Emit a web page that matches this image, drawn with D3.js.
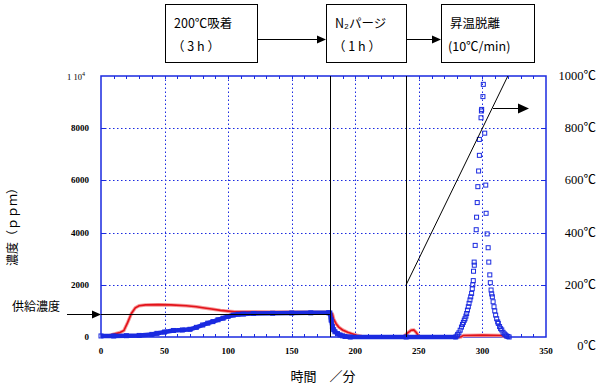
<!DOCTYPE html>
<html>
<head>
<meta charset="utf-8">
<script src="https://cdn.jsdelivr.net/npm/d3@7"></script>
<style>
  body { margin: 0; background: #fff; }
  text { font-family: "Liberation Serif", "Noto Sans CJK JP", serif; }
  .jp { font-family: "Noto Sans CJK JP", sans-serif; }
</style>
</head>
<body>
<svg class="chart"></svg>
<script>
// time (min) / concentration (ppm)
var redData = [[7,60],[10,110],[15,170],[18,250],[21,560],[24,910],[27,1120],[30,1200],[35,1230],
  [45,1240],[55,1230],[67,1200],[75,1160],[80,1120],[87,1070],[94,1020],[100,990],[105,970],
  [120,965],[135,960],[150,955],[165,950],[179,945],[180,930],[182,880],[183,690],[185,500],
  [187,380],[190,270],[194,180],[197,130],[201,70],[205,20],[210,0],[238,0],[241,150],[244,260],
  [246,270],[248,170],[250,20],[252,0],[283,0],[285,60],[300,70],[315,60],[318,0]];

var blueBand = [[0,40],[10,40],[20,50],[30,60],[40,100],[44,140],[50,190],[57,250],[64,270],
  [70,295],[75,370],[80,460],[84,530],[88,590],[92,660],[96,720],[100,790],[104,840],[108,870],
  [112,880],[120,900],[135,910],[150,920],[165,925],[179,930],[180,920],[181,650],[182,400],
  [183,280],[184,200],[186,130],[188,80],[190,45],[192,20],[196,0],[240,0],[279,0],[280,40]];

var bluePeak = [[280.5,100],[281.5,160],[282.5,260],[283.5,380],[284.3,480],[285,560],[285.7,640],
  [286.3,700],[287,800],[287.6,900],[288.2,1030],[288.9,1160],[289.5,1290],[290.2,1420],[290.8,1540],
  [291.5,1670],[292,1850],[292.4,2000],[292.8,2160],[293,2520],[293.5,2870],[293.6,2750],[294.3,3510],
  [295.1,4110],[295.4,4590],[295.9,5150],[296.4,5760],[297,6360],[297.6,6960],[297.6,7570],[298.9,8400],
  [299.2,8660],[299.4,8720],[300.4,9210],[300.7,9680],[301.8,7810],[302.6,5820],[302.9,4740],
  [303.7,3950],[304.5,3420],[305,2870],[305.8,2380],[306.2,2080],[306.8,1800],[307.3,1650],
  [307.8,1540],[308.4,1350],[309.1,1160],[309.7,1000],[310.4,840],[311.2,700],[312,580],[312.5,520],
  [313.5,400],[314.3,320],[315.2,270],[316.2,180],[317.2,120],[318,80],[319,40],[320,20],[321,0]];

// temperature program (min, ℃)
var tempData = [[240,200],[320,1000]];
var feedPpm = 880;
var stepLines = [180, 240];

var xTicks = [0,50,100,150,200,250,300,350];
var yTicks = [0,2000,4000,6000,8000];
var tTicks = [0,200,400,600,800,1000];

var boxes = [
  {x: 165, w: 92, l1: "200℃吸着", l2: "（3 h）"},
  {x: 326, w: 80, l1: "N₂パージ", l2: "（1 h）"},
  {x: 441, w: 93, l1: "昇温脱離", l2: "(10℃/min)"}
];

var W = 600, H = 387;
var svg = d3.select(".chart").attr("width", W).attr("height", H);

var x = d3.scaleLinear().domain([0, 350]).range([101, 546]);
var y = d3.scaleLinear().domain([0, 10000]).range([337, 76]);
var yT = d3.scaleLinear().domain([0, 1000]).range([337, 76]);
var blue = "#1a2ae0";

// horizontal arrow pointing right, tip at (x2, yy)
function arrow(x1, x2, yy, size) {
    svg.append("line").attr("x1", x1).attr("x2", x2 - size).attr("y1", yy + .5).attr("y2", yy + .5)
        .attr("stroke", "#000");
    svg.append("path")
        .attr("d", "M" + (x2 - size) + "," + (yy + .5 - size * .45) + "L" + x2 + "," + (yy + .5) +
            "L" + (x2 - size) + "," + (yy + .5 + size * .45) + "Z")
        .attr("fill", "#000");
}

// process boxes
boxes.forEach(function(b) {
    svg.append("rect").attr("x", b.x + .5).attr("y", 4.5).attr("width", b.w).attr("height", 58)
        .attr("fill", "none").attr("stroke", "#000");
    svg.append("text").attr("class", "jp").attr("x", b.x + 9).attr("y", 28)
        .attr("font-size", 12.5).text(b.l1);
    svg.append("text").attr("class", "jp").attr("x", b.x + 7).attr("y", 51)
        .attr("font-size", 12.5).style("white-space", "pre")
        .text(b.l2.replace(/（/g, "（ ").replace(/）/g, " ）"));
});
for (var i = 0; i < boxes.length - 1; i++) {
    arrow(boxes[i].x + boxes[i].w + .5, boxes[i + 1].x, 39, 9);
}

// grid
svg.append("g").selectAll("line").data(yTicks.slice(1)).enter().append("line")
    .attr("x1", x(0)).attr("x2", x(350))
    .attr("y1", function(d) { return Math.round(y(d)) + .5; })
    .attr("y2", function(d) { return Math.round(y(d)) + .5; })
    .attr("stroke", blue).attr("stroke-dasharray", "1.5,2.5");
svg.append("g").selectAll("line").data(xTicks.slice(1, -1)).enter().append("line")
    .attr("y1", y(0)).attr("y2", y(10000))
    .attr("x1", function(d) { return Math.round(x(d)) + .5; })
    .attr("x2", function(d) { return Math.round(x(d)) + .5; })
    .attr("stroke", blue).attr("stroke-dasharray", "1.5,2.5");

// minor ticks inside the frame
var minor = d3.range(10, 350, 10);
svg.append("g").selectAll("line").data(minor).enter().append("line")
    .attr("x1", function(d) { return Math.round(x(d)) + .5; })
    .attr("x2", function(d) { return Math.round(x(d)) + .5; })
    .attr("y1", y(10000)).attr("y2", y(10000) + 3).attr("stroke", blue);
svg.append("g").selectAll("line").data(minor).enter().append("line")
    .attr("x1", function(d) { return Math.round(x(d)) + .5; })
    .attr("x2", function(d) { return Math.round(x(d)) + .5; })
    .attr("y1", y(0)).attr("y2", y(0) - 3).attr("stroke", blue);
svg.append("g").selectAll("line").data(yTicks.slice(1)).enter().append("line")
    .attr("x1", x(0)).attr("x2", x(0) + 4)
    .attr("y1", function(d) { return Math.round(y(d)) + .5; })
    .attr("y2", function(d) { return Math.round(y(d)) + .5; }).attr("stroke", blue);
svg.append("g").selectAll("line").data(yTicks.slice(1)).enter().append("line")
    .attr("x1", x(350)).attr("x2", x(350) - 4)
    .attr("y1", function(d) { return Math.round(y(d)) + .5; })
    .attr("y2", function(d) { return Math.round(y(d)) + .5; }).attr("stroke", blue);

// frame
svg.append("rect").attr("x", x(0)).attr("y", y(10000))
    .attr("width", x(350) - x(0)).attr("height", y(0) - y(10000))
    .attr("fill", "none").attr("stroke", blue).attr("stroke-width", 1.5);

// axis labels
svg.append("g").selectAll("text").data(xTicks).enter().append("text")
    .attr("x", function(d) { return x(d); }).attr("y", 354)
    .attr("text-anchor", "middle").attr("font-size", 9).attr("font-weight", "bold")
    .attr("font-family", "DejaVu Sans").text(function(d) { return d; });
svg.append("g").selectAll("text").data(yTicks).enter().append("text")
    .attr("x", 89).attr("y", function(d) { return y(d) + 3; })
    .attr("text-anchor", "end").attr("font-size", 9).attr("font-weight", "bold")
    .attr("font-family", "DejaVu Sans").text(function(d) { return d; });
var topLbl = svg.append("text").attr("x", 67).attr("y", 80)
    .attr("font-size", 8.5).attr("font-family", "DejaVu Sans");
topLbl.append("tspan").text("1 10");
topLbl.append("tspan").attr("dy", -4).attr("font-size", 6).text("4");

svg.append("g").selectAll("text").data(tTicks).enter().append("text")
    .attr("x", 596).attr("y", function(d) { return yT(d) + (d === 0 ? 13 : 4); })
    .attr("text-anchor", "end").attr("font-size", 12.5)
    .text(function(d) { return d + "℃"; });

svg.append("text").attr("class", "jp")
    .attr("transform", "translate(17,224) rotate(-90)")
    .attr("text-anchor", "middle").attr("font-size", 12).text("濃度（ｐｐｍ）");
svg.append("text").attr("class", "jp").attr("x", 323).attr("y", 381)
    .attr("text-anchor", "middle").attr("font-size", 13).style("white-space", "pre")
    .text("時間　／分");

// series
var line = d3.line().x(function(d) { return x(d[0]); }).y(function(d) { return y(d[1]); });

svg.append("path").datum(redData).attr("d", line)
    .attr("fill", "none").attr("stroke", "#f59a9a").attr("stroke-width", 3.5);
svg.append("path").datum(redData).attr("d", line)
    .attr("fill", "none").attr("stroke", "#e3121a").attr("stroke-width", 1.6);

svg.append("path").datum(blueBand).attr("d", line)
    .attr("fill", "none").attr("stroke", blue).attr("stroke-width", 4.5);
svg.append("g").selectAll("rect").data(blueBand).enter().append("rect")
    .attr("x", function(d) { return x(d[0]) - 2; }).attr("y", function(d) { return y(d[1]) - 2; })
    .attr("width", 4).attr("height", 4).attr("fill", "none").attr("stroke", blue);
svg.append("g").selectAll("rect").data(bluePeak).enter().append("rect")
    .attr("x", function(d) { return x(d[0]) - 2; }).attr("y", function(d) { return y(d[1]) - 2; })
    .attr("width", 4).attr("height", 4).attr("fill", "none").attr("stroke", blue);

// feed concentration
svg.append("text").attr("class", "jp").attr("x", 12).attr("y", 311)
    .attr("font-size", 12).text("供給濃度");
var feedY = Math.round(y(feedPpm));
arrow(67, x(0), feedY, 9);
svg.append("line").attr("x1", x(0)).attr("x2", x(180))
    .attr("y1", feedY + .5).attr("y2", feedY + .5)
    .attr("stroke", "#000");

// step boundaries
svg.append("g").selectAll("line").data(stepLines).enter().append("line")
    .attr("x1", function(d) { return Math.round(x(d)) + .5; })
    .attr("x2", function(d) { return Math.round(x(d)) + .5; })
    .attr("y1", y(10000)).attr("y2", y(0)).attr("stroke", "#000");

// temperature
svg.append("path").datum(tempData)
    .attr("d", d3.line().x(function(d) { return x(d[0]); }).y(function(d) { return yT(d[1]); }))
    .attr("fill", "none").attr("stroke", "#000");
arrow(493, 529, 108, 11);
</script>
</body>
</html>
